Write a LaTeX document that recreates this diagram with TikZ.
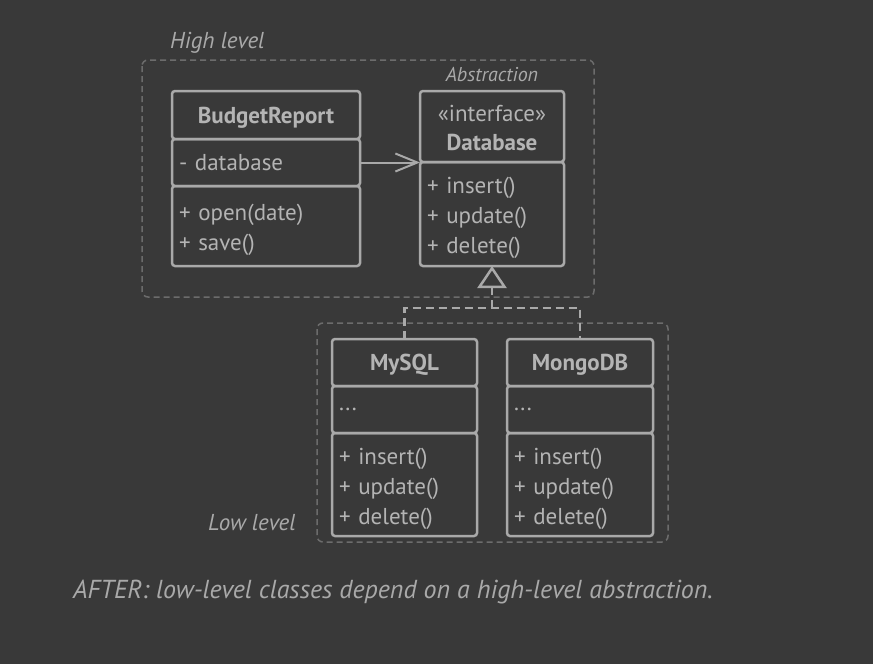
\documentclass[tikz,border=0pt]{standalone}
\usepackage{fontspec}
\setmainfont{PT Sans}
\usetikzlibrary{arrows.meta}
\definecolor{bg}{HTML}{393939}
\definecolor{ink}{HTML}{A9A9A9}
\definecolor{txt}{HTML}{B4B4B4}
\definecolor{frm}{HTML}{6C6C6C}
\begin{document}
\begin{tikzpicture}[x=1pt,y=-1pt,
  cls/.style 2 args={draw=ink, line width=2.5pt, rounded corners=3pt, anchor=north west,
    outer sep=0pt, inner xsep=7pt, inner ysep=0pt, minimum width=#1, minimum height=#2,
    text width=#1-14pt, text depth=-3pt, align=left, text=txt, font=\fontsize{23}{30}\selectfont},
  title/.style={align=center, font=\fontsize{23}{29}\selectfont\bfseries},
  frame/.style={draw=frm, line width=1.5pt, dash pattern=on 6pt off 4pt, rounded corners=6pt},
  tag/.style={text=ink, inner sep=0pt, font=\fontsize{23}{26}\selectfont\itshape},
  dashline/.style={draw=ink, line width=2.5pt, dash pattern=on 8pt off 5pt}]
  \fill[bg] (0,0) rectangle (873,664);
  \useasboundingbox (0,0) rectangle (873,664);
  \draw[frame] (142,60) rectangle (594,297);
  \draw[frame] (317,323) rectangle (668,542);
  \node[tag, anchor=base west] (high) at (170,48) {High level};
  \node[tag, anchor=base, font=\fontsize{20}{22}\selectfont\itshape] (abs) at (492,81) {Abstraction};
  \node[tag, anchor=base west] (low) at (208,530) {Low level};
  \node[cls={188}{48}, title] (br-name) at (172,91) {BudgetReport};
  \node[cls={188}{47}] (br-attr) at (172,139) {- database};
  \node[cls={188}{80}, text depth=27pt] (br-ops) at (172,186) {+ open(date)\\+ save()};
  \node[cls={144}{71}, title, text depth=26pt] (db-name) at (420,91) {{\mdseries«interface»}\\Database};
  \node[cls={144}{104}, text depth=57pt] (db-ops) at (420,162) {+ insert()\\+ update()\\+ delete()};
  \node[cls={145}{47}, title] (my-name) at (332,339) {MySQL};
  \node[cls={145}{47}] (my-attr) at (332,386) {...};
  \node[cls={145}{103}, text depth=57pt] (my-ops) at (332,433) {+ insert()\\+ update()\\+ delete()};
  \node[cls={146}{47}, title] (mg-name) at (507,339) {MongoDB};
  \node[cls={146}{47}] (mg-attr) at (507,386) {...};
  \node[cls={146}{103}, text depth=57pt] (mg-ops) at (507,433) {+ insert()\\+ update()\\+ delete()};
  \draw[ink, line width=2pt, -{Straight Barb[length=22pt, width=18pt]}]
    (br-attr.east) -- (br-attr.east -| db-name.west);
  \coordinate (fork) at (492,308);
  \draw[dashline] (my-name.north) |- (fork) -| (mg-name.north);
  \draw[dashline, -{Triangle[open, length=22pt, width=29pt]}] (fork) -- (db-ops.south);
  \node[tag, anchor=base west, font=\fontsize{26}{30}\selectfont\itshape] (caption) at (73,598)
    {AFTER: low-level classes depend on a high-level abstraction.};
\end{tikzpicture}
\end{document}
